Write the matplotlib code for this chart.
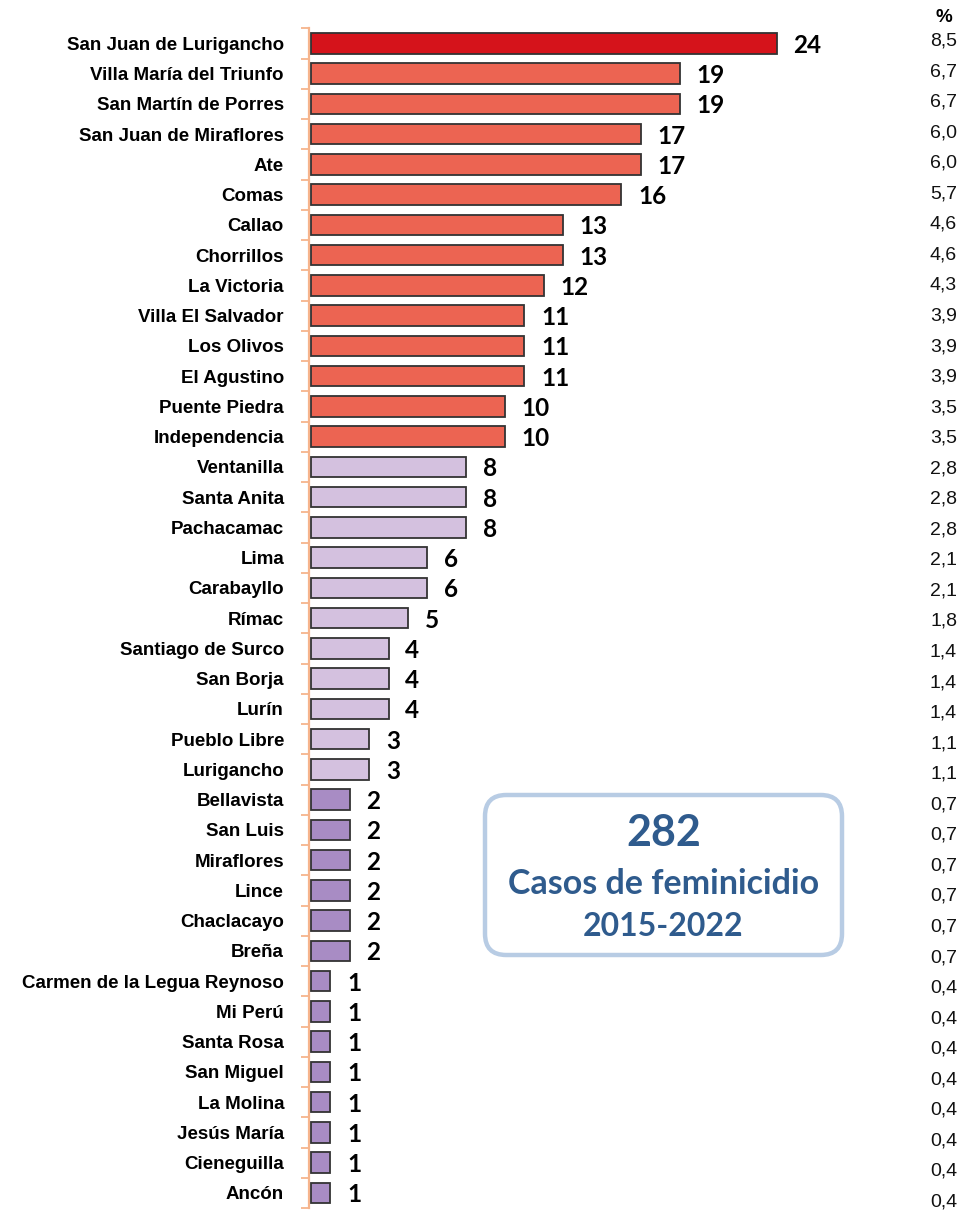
import matplotlib
matplotlib.use("Agg")
import matplotlib.pyplot as plt
from matplotlib.patches import FancyBboxPatch
from matplotlib import font_manager as fm

districts = [
    "San Juan de Lurigancho", "Villa María del Triunfo", "San Martín de Porres",
    "San Juan de Miraflores", "Ate", "Comas", "Callao", "Chorrillos", "La Victoria",
    "Villa El Salvador", "Los Olivos", "El Agustino", "Puente Piedra", "Independencia",
    "Ventanilla", "Santa Anita", "Pachacamac", "Lima", "Carabayllo", "Rímac",
    "Santiago de Surco", "San Borja", "Lurín", "Pueblo Libre", "Lurigancho",
    "Bellavista", "San Luis", "Miraflores", "Lince", "Chaclacayo", "Breña",
    "Carmen de la Legua Reynoso", "Mi Perú", "Santa Rosa", "San Miguel",
    "La Molina", "Jesús María", "Cieneguilla", "Ancón",
]
cases = [24, 19, 19, 17, 17, 16, 13, 13, 12, 11, 11, 11, 10, 10,
         8, 8, 8, 6, 6, 5, 4, 4, 4, 3, 3,
         2, 2, 2, 2, 2, 2,
         1, 1, 1, 1, 1, 1, 1, 1]
percent = ["8,5", "6,7", "6,7", "6,0", "6,0", "5,7", "4,6", "4,6", "4,3",
           "3,9", "3,9", "3,9", "3,5", "3,5", "2,8", "2,8", "2,8", "2,1", "2,1",
           "1,8", "1,4", "1,4", "1,4", "1,1", "1,1",
           "0,7", "0,7", "0,7", "0,7", "0,7", "0,7",
           "0,4", "0,4", "0,4", "0,4", "0,4", "0,4", "0,4", "0,4"]
total_cases = "282"
box_line1 = "Casos de feminicidio"
box_line2 = "2015-2022"

installed = {f.name for f in fm.fontManager.ttflist}
label_family = ["Liberation Sans Narrow"] if "Liberation Sans Narrow" in installed else ["Liberation Sans"]
num_family = ["Lato", "DejaVu Sans"]

W, H = 964, 1214
fig = plt.figure(figsize=(W / 100, H / 100), dpi=100)

def fx(px):
    return px / W

def fy(py):
    return 1 - py / H

ax_left, ax_top, ax_bottom = 309, 28.3, 1208
px_per_unit = 19.4
gap_px = 2.0
ax_w = 620
ax = fig.add_axes([fx(ax_left), fy(ax_bottom), ax_w / W, (ax_bottom - ax_top) / H])
ax.set_xlim(-gap_px / px_per_unit, (ax_w - gap_px) / px_per_unit)
n = len(districts)
ax.set_ylim(n - 0.5, -0.5)

def bar_color(v):
    if v >= 20:
        return "#D5131B"
    if v >= 10:
        return "#EC6452"
    if v >= 3:
        return "#D4C1DF"
    return "#A88CC4"

ys = list(range(n))
ax.barh(ys, cases, height=0.68, color=[bar_color(v) for v in cases],
        edgecolor="#333333", linewidth=1.3, zorder=3)

for y, v in zip(ys, cases):
    ax.annotate(str(v), xy=(v, y), xytext=(12, 0), textcoords="offset points",
                ha="left", va="center_baseline", fontsize=17.5, fontweight="bold",
                family=num_family, color="black")

peach = "#F6B48C"
for s in ["top", "right", "bottom"]:
    ax.spines[s].set_visible(False)
ax.spines["left"].set_color(peach)
ax.spines["left"].set_linewidth(1.6)
ax.spines["left"].set_position(("data", -gap_px / px_per_unit))
ax.set_xticks([])
ax.set_yticks(ys)
ax.set_yticklabels(districts, family=label_family, fontweight="bold", fontsize=13.5)
ax.tick_params(axis="y", which="major", length=0, pad=18)
ax.set_yticks([i - 0.5 for i in range(n + 1)], minor=True)
ax.tick_params(axis="y", which="minor", length=6, width=1.3, color=peach)
ax.patch.set_visible(False)

# percentage column
p_top, p_bot = 41, 1202
for i, p in enumerate(percent):
    ypx = p_top + i * (p_bot - p_top) / (n - 1)
    fig.text(fx(957), fy(ypx), p, ha="right", va="center", fontsize=14,
             family=["Liberation Sans"], color="#111111")
fig.text(fx(944), fy(18), "%", ha="center", va="center", fontsize=13.5,
         fontweight="bold", family=["Liberation Sans"])

# summary box
bx0, bx1, by0, by1 = 485, 842, 795, 955
box = FancyBboxPatch((fx(bx0), fy(by1)), fx(bx1) - fx(bx0), fy(by0) - fy(by1),
                     boxstyle="round,pad=0,rounding_size=0.022",
                     transform=fig.transFigure, facecolor="white",
                     edgecolor="#B8CCE4", linewidth=3.2, zorder=5,
                     mutation_aspect=W / H)
fig.patches.append(box)
cx = fx((bx0 + bx1) / 2)
blue = "#2F5B8D"
fig.text(cx, fy(833), total_cases, ha="center", va="center", fontsize=31,
         fontweight="bold", family=num_family, color=blue, zorder=6)
fig.text(cx, fy(884), box_line1, ha="center", va="center", fontsize=24.5,
         fontweight="bold", family=num_family, color=blue, zorder=6)
fig.text(cx, fy(927), box_line2, ha="center", va="center", fontsize=23,
         fontweight="bold", family=num_family, color=blue, zorder=6)

fig.savefig("out.png", dpi=100)
